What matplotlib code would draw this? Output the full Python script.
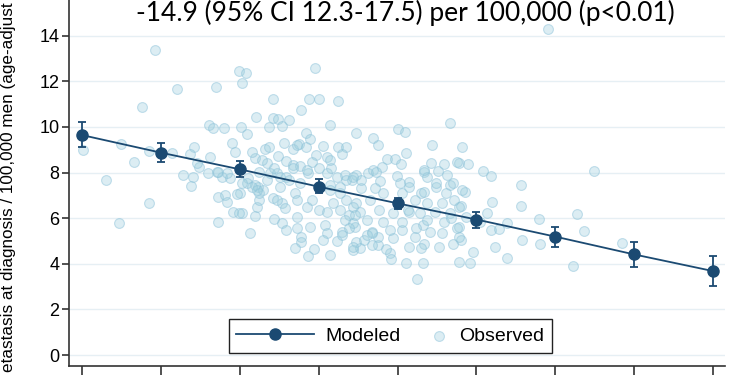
import matplotlib
matplotlib.use("Agg")
import matplotlib.pyplot as plt
from matplotlib.legend_handler import HandlerPathCollection

plt.rcParams['font.family'] = ['Liberation Sans', 'DejaVu Sans']

# modeled rate per category, with 95% CI
model_x = [1, 2, 3, 4, 5, 6, 7, 8, 9]
model_y = [9.64, 8.87, 8.14, 7.38, 6.65, 5.94, 5.19, 4.41, 3.68]
model_lo = [9.10, 8.45, 7.80, 7.10, 6.40, 5.55, 4.72, 3.87, 3.02]
model_hi = [10.20, 9.30, 8.50, 7.70, 6.90, 6.28, 5.60, 4.97, 4.35]

# observed rates (x, y)
observed = [
    (1.92, 13.35), (2.99, 12.46), (3.08, 12.37), (3.96, 12.60), (2.20, 11.67), (2.70, 11.74),
    (3.03, 11.94), (1.76, 10.86), (3.42, 11.23), (3.88, 11.21), (4.01, 11.23), (4.24, 11.14),
    (3.78, 10.75), (3.21, 10.45), (3.42, 10.40), (3.49, 10.34), (3.62, 10.28), (4.15, 10.09),
    (2.61, 10.09), (2.66, 9.94), (2.80, 9.94), (3.02, 10.00), (3.37, 10.00), (3.54, 10.04),
    (3.09, 9.68), (3.84, 9.74), (3.89, 9.45), (3.56, 9.31), (2.90, 9.31), (4.48, 9.72),
    (4.69, 9.50), (1.01, 9.00), (1.50, 9.25), (2.14, 8.87), (1.85, 8.96), (1.66, 8.46),
    (2.42, 9.13), (2.37, 8.82), (2.62, 8.70), (2.94, 8.90), (3.19, 8.65), (3.34, 8.43),
    (3.32, 9.02), (3.37, 9.13), (3.67, 9.04), (3.75, 9.25), (3.84, 9.13), (4.05, 9.17),
    (4.24, 9.13), (4.35, 9.13), (4.30, 8.82), (3.97, 8.77), (4.10, 8.70), (3.48, 8.73),
    (3.59, 8.51), (3.67, 8.33), (3.76, 8.30), (2.28, 7.89), (2.41, 7.81), (2.48, 8.25),
    (2.60, 7.98), (2.71, 8.03), (2.77, 7.81), (2.87, 7.76), (3.10, 7.76), (3.25, 8.03),
    (3.38, 7.98), (3.47, 7.98), (3.59, 7.81), (3.86, 7.98), (4.11, 7.98), (4.16, 8.20),
    (4.33, 7.89), (4.48, 7.89), (4.62, 7.98), (4.69, 8.11), (1.30, 7.67),
    (6.91, 14.29), (5.66, 10.17), (5.01, 9.91), (5.09, 9.78), (4.75, 9.21), (5.44, 9.21),
    (5.82, 9.13), (5.11, 8.86), (4.87, 8.60), (4.97, 8.60), (5.04, 8.38), (5.43, 8.42),
    (5.59, 8.38), (5.78, 8.42), (5.90, 8.38), (4.80, 8.25), (4.73, 8.03), (5.34, 8.03),
    (5.51, 8.07), (5.63, 7.89), (6.08, 8.07), (6.19, 7.85), (7.49, 8.07), (4.99, 7.85),
    (4.78, 7.63), (5.15, 7.59), (6.56, 7.46), (5.38, 7.81),
    (5.85, 7.15), (6.20, 6.71), (6.56, 6.53), (5.81, 6.53), (6.14, 6.23), (7.28, 6.18),
    (6.80, 5.96), (6.39, 5.79), (7.37, 5.44), (6.19, 5.48), (6.29, 5.53), (6.58, 5.04),
    (6.81, 4.87), (7.84, 4.91), (6.23, 4.74), (5.96, 4.52), (6.39, 4.25), (5.92, 4.04),
    (5.78, 4.08), (7.22, 3.90), (5.81, 5.04), (6.04, 5.83),
    (5.25, 3.33), (5.32, 4.04), (5.11, 4.04), (5.53, 4.74), (5.70, 4.87), (5.34, 4.87),
    (4.90, 4.47), (4.92, 4.21), (4.75, 4.82),
    (4.86, 4.65), (4.68, 4.82), (4.52, 4.69), (4.48, 4.95), (4.58, 5.04), (4.75, 5.18),
    (4.94, 5.13), (5.15, 4.74), (5.30, 4.69), (5.78, 5.18), (5.57, 5.35), (5.41, 5.39),
    (5.22, 5.18), (5.06, 5.48), (4.90, 5.48), (4.68, 5.39), (4.46, 5.61), (4.61, 5.92),
    (4.81, 5.83), (5.06, 5.83), (5.32, 5.70), (5.59, 5.83), (5.78, 5.61), (5.87, 6.05),
    (5.66, 6.23), (5.47, 6.27), (5.28, 6.23), (5.15, 6.27), (4.94, 6.23), (4.77, 6.36),
    (4.52, 6.27), (4.39, 6.14), (4.48, 6.66), (4.65, 6.80), (4.81, 7.10), (5.06, 7.10),
    (5.30, 7.10), (5.49, 7.37), (5.66, 7.46), (5.82, 7.24), (5.37, 6.66), (5.57, 6.66),
    (5.78, 6.49), (4.54, 7.32), (5.03, 7.54), (5.15, 7.37),
    (5.34, 8.11), (5.76, 8.46), (4.42, 7.67), (4.54, 7.67), (5.70, 7.54), (5.49, 7.54),
    (3.72, 9.21), (3.16, 8.90), (3.28, 8.55), (3.91, 8.46), (4.14, 8.55), (3.44, 8.20),
    (3.67, 8.20), (3.85, 8.11), (4.01, 8.20), (4.23, 7.81), (4.35, 7.67), (4.43, 7.81),
    (3.35, 7.67), (3.51, 7.81), (3.63, 7.67), (3.76, 7.54), (4.14, 7.46), (4.27, 7.37),
    (3.09, 7.54), (3.23, 7.37),
    (3.13, 5.35), (3.19, 6.10), (3.03, 6.23), (3.44, 5.96), (3.53, 5.79), (3.59, 5.48),
    (3.72, 6.05), (3.89, 5.61), (4.08, 5.70), (4.11, 5.35), (4.23, 5.00), (4.05, 5.04),
    (3.78, 5.18), (3.78, 4.95), (3.70, 4.69), (3.94, 4.65), (3.87, 4.34), (4.14, 4.39),
    (4.30, 5.39), (4.43, 4.60), (4.43, 5.79), (4.33, 5.92), (3.22, 6.49), (3.25, 6.80),
    (3.25, 7.10), (3.29, 7.24), (3.19, 7.46), (3.42, 6.88), (3.53, 6.66), (3.57, 6.45),
    (3.51, 7.37), (3.70, 7.10), (3.73, 6.80), (3.85, 6.49), (3.92, 6.80), (4.01, 6.36),
    (4.10, 6.27), (4.18, 6.66), (4.27, 6.36), (4.35, 6.80), (4.27, 7.10), (4.14, 7.24),
    (4.43, 6.49), (4.46, 6.14), (3.00, 7.10), (3.16, 7.37),
    (2.46, 8.42), (2.73, 8.03), (2.84, 7.98), (3.03, 7.54), (2.38, 7.41), (1.85, 6.66),
    (2.73, 6.93), (2.81, 7.02), (2.84, 6.71), (2.96, 7.06), (2.91, 6.27), (2.99, 6.23),
    (1.47, 5.79), (2.73, 5.83), (3.22, 7.24), (3.47, 6.80), (3.72, 5.57), (4.30, 5.26),
    (4.39, 5.57), (4.43, 4.74), (4.68, 5.35), (4.61, 5.26),
    (4.71, 7.32), (5.34, 7.15), (5.62, 7.10), (5.72, 6.80), (5.22, 6.80), (5.13, 6.36),
    (5.68, 6.01), (5.38, 5.92), (5.24, 5.57), (5.76, 5.57),
]
obs_x = [p[0] for p in observed]
obs_y = [p[1] for p in observed]

title = "-14.9 (95% CI 12.3-17.5) per 100,000 (p<0.01)"
# the source image is cropped: only this part of the axis title is visible
ylabel = "etastasis at diagnosis / 100,000 men (age-adjust"

navy = "#1b4a72"


class DotAtRight(HandlerPathCollection):
    # put the legend dot near the text instead of centred in the handle
    def get_xdata(self, legend, xdescent, ydescent, width, height, fontsize):
        x = [width - xdescent - 0.45 * fontsize]
        return x, x


fig = plt.figure(figsize=(7.5, 3.75), dpi=100)
ax = fig.add_axes([69 / 750, 9 / 375, 656 / 750, 366 / 375])

ax.set_xlim(0.835, 9.152)
ax.set_ylim(-0.48, 15.56)
ax.set_yticks(range(0, 15, 2))
ax.set_xticks(model_x)
ax.tick_params(axis='x', direction='out', length=8, width=1.2, labelbottom=False, color='#333333')
ax.tick_params(axis='y', direction='out', length=5, width=1.2, labelsize=13, color='#333333', pad=2)
ax.grid(axis='y', color='#e6eff4', lw=1.0)
ax.set_axisbelow(True)
for side in ['top', 'right']:
    ax.spines[side].set_visible(False)
for side in ['left', 'bottom']:
    ax.spines[side].set_color('#333333')
    ax.spines[side].set_linewidth(1.2)

obs = ax.scatter(obs_x, obs_y, s=50, facecolor=(0.62, 0.81, 0.87, 0.36),
                 edgecolor=(0.55, 0.76, 0.85, 0.5), linewidth=0.8, zorder=2, label='Observed')

yerr = [[m - lo for m, lo in zip(model_y, model_lo)], [hi - m for m, hi in zip(model_y, model_hi)]]
mod = ax.errorbar(model_x, model_y, yerr=yerr, fmt='o-', color=navy, ms=8, lw=1.3,
                  elinewidth=1.3, capsize=3, capthick=1.3, zorder=3, label='Modeled')

# legend shows the line with marker only, no error bar
ax.legend([mod[0], obs], ['Modeled', 'Observed'], loc='center', bbox_to_anchor=(0.49, 0.082),
          ncol=2, fontsize=14, frameon=True, fancybox=False, framealpha=1, edgecolor='#222222',
          handlelength=4, handletextpad=0.6, columnspacing=-1.6, borderpad=0.4,
          handler_map={obs: DotAtRight()})
ax.get_legend().get_frame().set_linewidth(1.0)

fig.text(0.54, 0.966, title, ha='center', va='center', fontsize=19, family=['Lato', 'DejaVu Sans'])
fig.text(0.011, 0.5, ylabel, rotation=90, ha='center', va='center', fontsize=12.3)

fig.savefig("out.png", dpi=100)
